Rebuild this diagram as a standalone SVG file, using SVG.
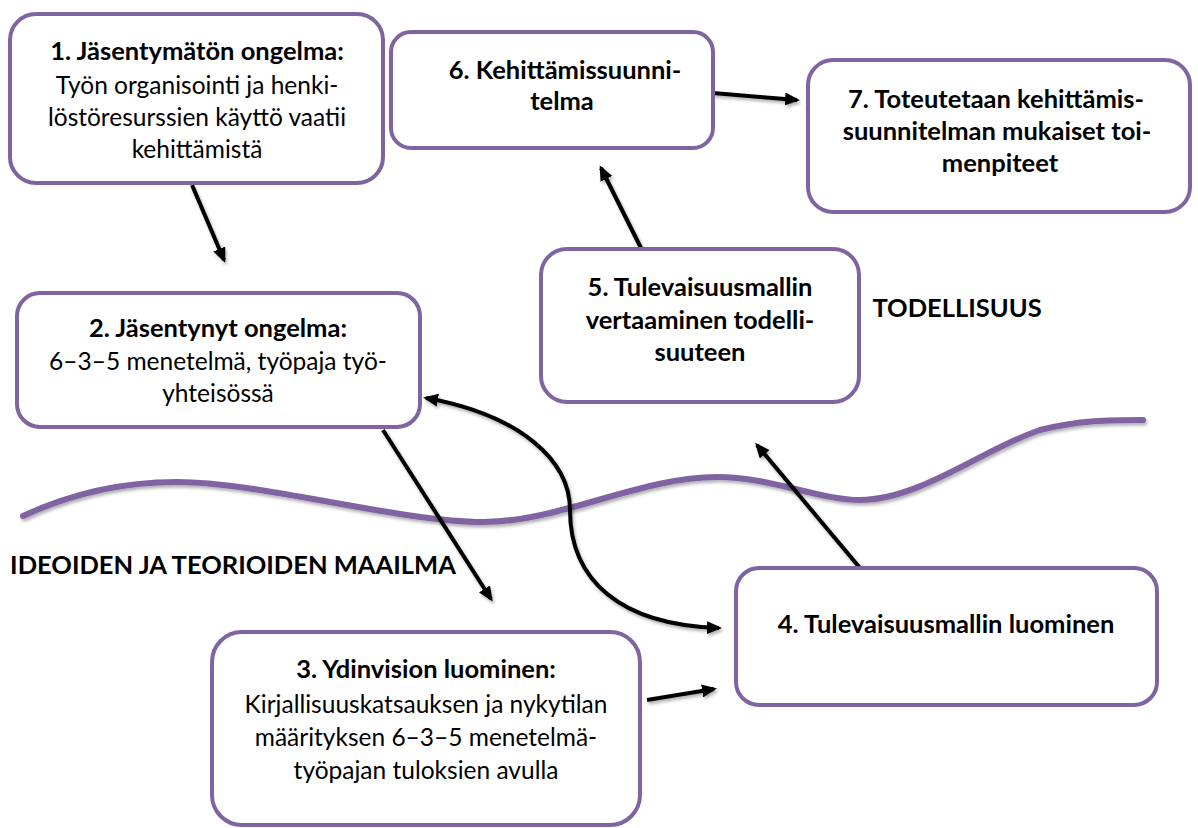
<svg xmlns="http://www.w3.org/2000/svg" width="1198" height="828" viewBox="0 0 1198 828">
<style>
.box{fill:#ffffff;stroke:#8064A2;stroke-width:4}
.t{font-family:Lato,"Liberation Sans",sans-serif;font-size:24.5px;fill:#000;text-anchor:middle}
.b{font-weight:bold;font-size:25.5px}
.conn{fill:none;stroke:#000;stroke-width:4}
.wave{fill:none;stroke:#8064A2;stroke-width:6;stroke-linecap:round}
</style>
<defs>
<marker id="ah" viewBox="0 0 15 13" refX="12" refY="6.5" markerWidth="15" markerHeight="13" markerUnits="userSpaceOnUse" orient="auto-start-reverse">
<path d="M0,0 L15,6.5 L0,13 Z" fill="#000"/>
</marker>
<filter id="sh" x="-10%" y="-10%" width="120%" height="130%">
<feDropShadow dx="1.5" dy="2.5" stdDeviation="1.5" flood-color="#000" flood-opacity="0.3"/>
</filter>
</defs>
<rect width="1198" height="828" fill="#ffffff"/>
<path class="wave" filter="url(#sh)" d="M23,516 C70,494 120,482 177,482 C260,482 400,522 483,522 C560,522 640,477 717,477 C770,477 820,500 860,500 C920,500 985,448 1040,430 C1080,420 1110,420 1143,420"/>
<g id="connectors" filter="url(#sh)">
<path class="conn" marker-end="url(#ah)" d="M192,185 L224,260"/>
<path class="conn" marker-end="url(#ah)" d="M383,430 L491,599"/>
<path class="conn" marker-end="url(#ah)" d="M647,700 L714,689"/>
<path class="conn" marker-end="url(#ah)" d="M860,568 L757,445"/>
<path class="conn" marker-end="url(#ah)" d="M642,250 L601,168"/>
<path class="conn" marker-end="url(#ah)" d="M713,93 L797,100"/>
<path class="conn" marker-start="url(#ah)" marker-end="url(#ah)" d="M426,398 C520,415 570,460 570,510 C570,580 620,625 719,628"/>
</g>
<g id="n1">
<rect class="box" x="10" y="14" width="373" height="169" rx="26"/>
<text class="t b" x="197" y="60">1. Jäsentymätön ongelma:</text>
<text class="t" x="197" y="94">Työn organisointi ja henki-</text>
<text class="t" x="197" y="126">löstöresurssien käyttö vaatii</text>
<text class="t" x="197" y="158">kehittämistä</text>
</g>
<g id="n6">
<rect class="box" x="391" y="32" width="322" height="116" rx="20"/>
<text class="t b" x="565" y="79">6. Kehittämissuunni-</text>
<text class="t b" x="562" y="110">telma</text>
</g>
<g id="n7">
<rect class="box" x="808" y="60" width="382" height="152" rx="25"/>
<text class="t b" x="996" y="108">7. Toteutetaan kehittämis-</text>
<text class="t b" x="997" y="140">suunnitelman mukaiset toi-</text>
<text class="t b" x="1000" y="172">menpiteet</text>
</g>
<g id="n2">
<rect class="box" x="17" y="293" width="403" height="134" rx="23"/>
<text class="t b" x="218" y="337">2. Jäsentynyt ongelma:</text>
<text class="t" x="218" y="370">6–3–5 menetelmä, työpaja työ-</text>
<text class="t" x="218" y="402">yhteisössä</text>
</g>
<g id="n5">
<rect class="box" x="541" y="249" width="318" height="153" rx="26"/>
<text class="t b" x="700" y="296">5. Tulevaisuusmallin</text>
<text class="t b" x="700" y="329">vertaaminen todelli-</text>
<text class="t b" x="700" y="361">suuteen</text>
</g>
<g id="n3">
<rect class="box" x="212" y="632" width="428" height="193" rx="30"/>
<text class="t b" x="426" y="678">3. Ydinvision luominen:</text>
<text class="t" x="426" y="713">Kirjallisuuskatsauksen ja nykytilan</text>
<text class="t" x="426" y="746">määrityksen 6–3–5 menetelmä-</text>
<text class="t" x="426" y="779">työpajan tuloksien avulla</text>
</g>
<g id="n4">
<rect class="box" x="736" y="568" width="421" height="137" rx="23"/>
<text class="t b" x="946" y="633">4. Tulevaisuusmallin luominen</text>
</g>
<g id="labels">
<text class="t b" x="957" y="317">TODELLISUUS</text>
<text class="t b" x="233" y="574">IDEOIDEN JA TEORIOIDEN MAAILMA</text>
</g>
</svg>
